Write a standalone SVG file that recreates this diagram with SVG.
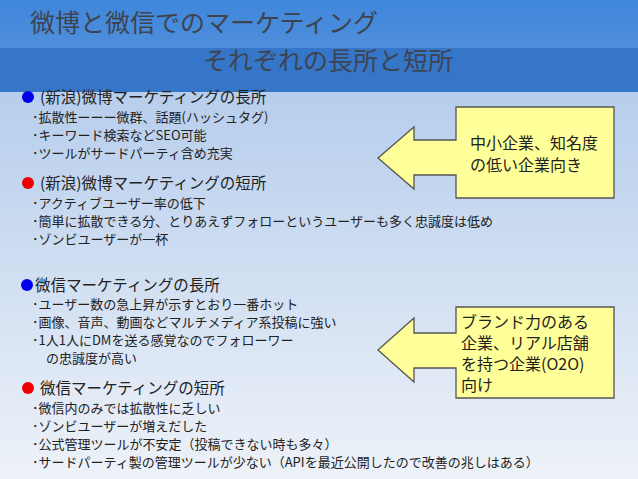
<svg xmlns="http://www.w3.org/2000/svg" width="638" height="479" viewBox="0 0 638 479">
<defs>
<linearGradient id="bg" x1="0" y1="0" x2="0" y2="1"><stop offset="0" stop-color="#a9c5ea"/><stop offset="1" stop-color="#eef2f8"/></linearGradient>
<linearGradient id="hd" x1="0" y1="0" x2="0" y2="1"><stop offset="0" stop-color="#3f86dc"/><stop offset="1" stop-color="#5e97da"/></linearGradient>
</defs>
<style>
text{font-family:"Noto Sans CJK JP","Noto Sans CJK SC",sans-serif;fill:#222}
.t{font-size:25px;fill:#3d4450}
.h{font-size:15.5px}
.b{font-size:13px}
.c{font-size:16px}
.box{fill:#ffff99;stroke:#555;stroke-width:1.3}
</style>
<rect width="638" height="479" fill="url(#bg)"/>
<rect width="638" height="92" fill="url(#hd)"/>
<rect y="48" width="638" height="44" fill="#3676c8"/>
<g id="title">
<text class="t" x="30" y="32">微博と微信でのマーケティング</text>
<text class="t" x="203" y="70">それぞれの長所と短所</text>
</g>
<g id="weibo">
<circle cx="28" cy="97" r="6" fill="#0000ee"/>
<text class="h" x="40" y="103">(新浪)微博マーケティングの長所</text>
<text class="b" x="32" y="122">･拡散性ーーー微群、話題(ハッシュタグ)</text>
<text class="b" x="32" y="140">･キーワード検索などSEO可能</text>
<text class="b" x="32" y="158">･ツールがサードパーティ含め充実</text>
<circle cx="28" cy="183" r="6" fill="#ee0000"/>
<text class="h" x="40" y="189">(新浪)微博マーケティングの短所</text>
<text class="b" x="32" y="208">･アクティブユーザー率の低下</text>
<text class="b" x="32" y="226">･簡単に拡散できる分、とりあえずフォローというユーザーも多く忠誠度は低め</text>
<text class="b" x="32" y="244">･ゾンビユーザーが一杯</text>
</g>
<g id="weixin">
<circle cx="27" cy="285" r="6" fill="#0000ee"/>
<text class="h" x="35" y="291">微信マーケティングの長所</text>
<text class="b" x="32" y="309">･ユーザー数の急上昇が示すとおり一番ホット</text>
<text class="b" x="32" y="327">･画像、音声、動画などマルチメディア系投稿に強い</text>
<text class="b" x="32" y="345">･1人1人にDMを送る感覚なのでフォローワー</text>
<text class="b" x="46" y="363">の忠誠度が高い</text>
<circle cx="28" cy="388" r="6" fill="#ee0000"/>
<text class="h" x="40" y="394">微信マーケティングの短所</text>
<text class="b" x="32" y="413">･微信内のみでは拡散性に乏しい</text>
<text class="b" x="32" y="431">･ゾンビユーザーが増えだした</text>
<text class="b" x="32" y="449">･公式管理ツールが不安定（投稿できない時も多々）</text>
<text class="b" x="32" y="467">･サードパーティ製の管理ツールが少ない（APIを最近公開したので改善の兆しはある）</text>
</g>
<g id="callout1">
<path class="box" d="M456,107 H614 V198 H456 V175 H414 V189 L378,158 L414,127 V140 H456 Z"/>
<text class="c" x="470" y="149">中小企業、知名度</text>
<text class="c" x="470" y="171">の低い企業向き</text>
</g>
<g id="callout2">
<path class="box" d="M456,307 H614 V398 H456 V368 H414 V382 L378,350 L414,318 V333 H456 Z"/>
<text class="c" x="461" y="328">ブランド力のある</text>
<text class="c" x="461" y="349">企業、リアル店舗</text>
<text class="c" x="461" y="370">を持つ企業(O2O)</text>
<text class="c" x="461" y="391">向け</text>
</g>
</svg>
